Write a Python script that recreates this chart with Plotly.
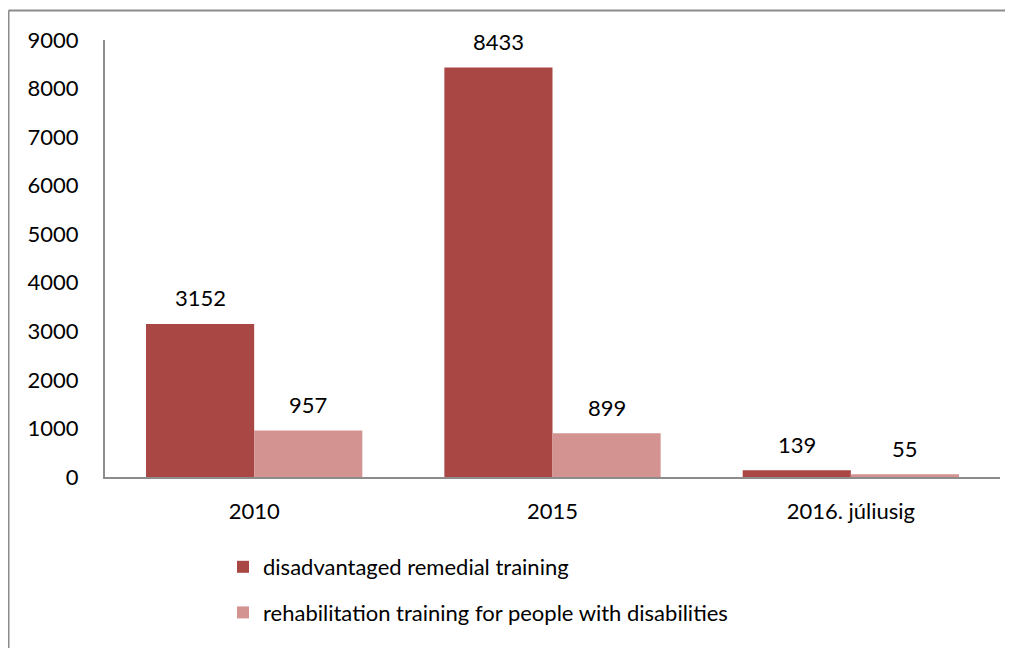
import plotly.graph_objects as go

categories = ["2010", "2015", "2016. júliusig"]
series1_name = "disadvantaged remedial training"
series1_values = [3152, 8433, 139]
series2_name = "rehabilitation training for people with disabilities"
series2_values = [957, 899, 55]
y_ticks = [0, 1000, 2000, 3000, 4000, 5000, 6000, 7000, 8000, 9000]

dark = "#A94745"
light = "#D39391"
font_family = "Lato, Liberation Sans, sans-serif"
fs = 22

# page body adds an 8px offset; design the figure to fit the visible window
W, H = 1005, 640
L, R, T, B = 97, 13, 32, 171

positions = list(range(len(categories)))

fig = go.Figure()
fig.add_trace(go.Bar(x=positions, y=series1_values, name=series1_name,
                     marker=dict(color=dark, line=dict(width=0)),
                     legendgroup="a"))
fig.add_trace(go.Bar(x=positions, y=series2_values, name=series2_name,
                     marker=dict(color=light, line=dict(width=0)),
                     legendgroup="b"))

annotations = []
for p, v in zip(positions, series1_values):
    annotations.append(dict(x=p, y=v, xref="x", yref="y", text=str(v),
                            showarrow=False, xshift=-54, yshift=26,
                            font=dict(size=fs, color="#000000", family=font_family)))
for p, v in zip(positions, series2_values):
    annotations.append(dict(x=p, y=v, xref="x", yref="y", text=str(v),
                            showarrow=False, xshift=54, yshift=26,
                            font=dict(size=fs, color="#000000", family=font_family)))

pw = W - L - R
ph = H - T - B
plot_bottom = H - B
top_y = (plot_bottom - 2.5) / ph
left_x = (0.5 - L) / pw
fig.add_shape(type="line", xref="paper", yref="paper",
              x0=left_x, x1=(W + 5 - L) / pw, y0=top_y, y1=top_y,
              line=dict(color="#8C8C8C", width=2))
fig.add_shape(type="line", xref="paper", yref="paper",
              x0=left_x, x1=left_x, y0=-(B + 5) / ph, y1=top_y,
              line=dict(color="#8C8C8C", width=2))

fig.update_layout(
    width=W, height=H,
    margin=dict(l=L, r=R, t=T, b=B, pad=0, autoexpand=False),
    paper_bgcolor="white", plot_bgcolor="white",
    barmode="group", bargap=0.275, bargroupgap=0,
    font=dict(family=font_family, size=fs, color="#000000"),
    showlegend=True,
    legend=dict(orientation="v", x=(215 - L) / pw, xanchor="left",
                y=-(538 - plot_bottom) / ph, yanchor="top",
                font=dict(size=fs, family=font_family),
                tracegroupgap=14, bgcolor="rgba(0,0,0,0)"),
    annotations=annotations,
    xaxis=dict(range=[-0.5, len(categories) - 0.5], tickvals=positions,
               ticktext=categories, showline=True, linecolor="#8C8C8C", linewidth=2,
               ticks="", showgrid=False, zeroline=False, ticklabelstandoff=14,
               automargin=False, tickfont=dict(size=fs, family=font_family)),
    yaxis=dict(range=[0, 9000], tickvals=y_ticks, showline=True,
               linecolor="#8C8C8C", linewidth=2, ticks="", showgrid=False,
               zeroline=False, ticklabelstandoff=20, automargin=False,
               tickfont=dict(size=fs, family=font_family)),
)

fig.write_html("out.html")
